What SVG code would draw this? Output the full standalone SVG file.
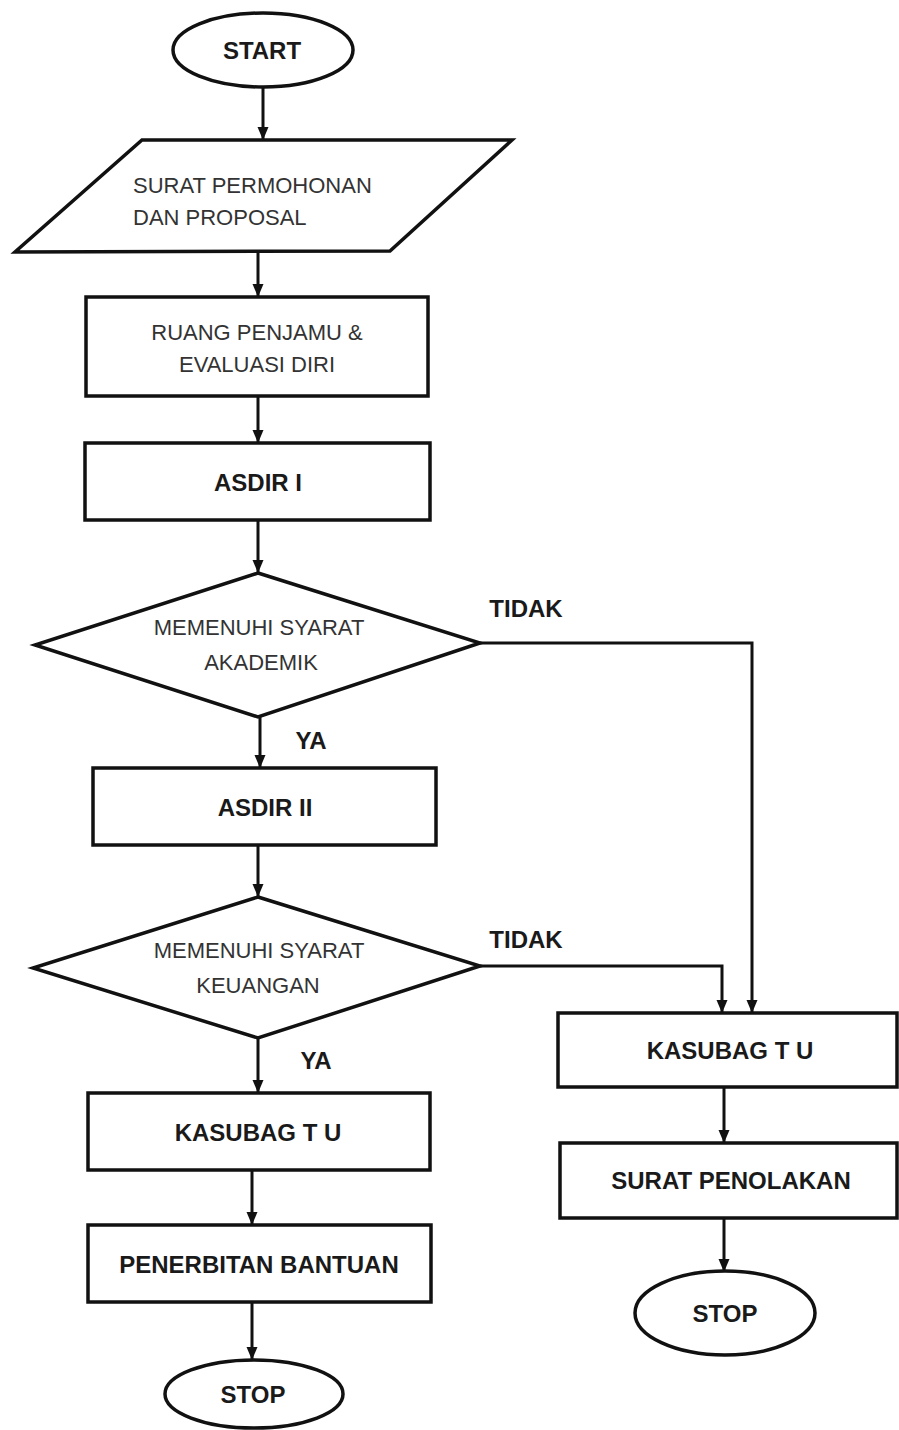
<svg xmlns="http://www.w3.org/2000/svg" width="899" height="1430" viewBox="0 0 899 1430">
  <style>
    .shape { fill: #ffffff; stroke: #111111; stroke-width: 3.5; }
    .conn { fill: none; stroke: #111111; stroke-width: 3; }
    .b { font-family: "Liberation Sans", Arial, sans-serif; font-weight: bold; font-size: 24px; fill: #1a1a1a; text-anchor: middle; }
    .r { font-family: "Liberation Sans", Arial, sans-serif; font-size: 22px; fill: #333333; text-anchor: middle; }
  </style>
  <defs>
    <marker id="arrow" markerUnits="userSpaceOnUse" markerWidth="13" markerHeight="12" refX="12" refY="5.5" orient="auto">
      <path d="M0,0 L13,5.5 L0,11 z" fill="#111111"/>
    </marker>
  </defs>
  <rect width="899" height="1430" fill="#ffffff"/>

  <!-- connectors -->
  <g id="connectors">
    <path class="conn" d="M263 87 V139" marker-end="url(#arrow)"/>
    <path class="conn" d="M258 251 V296" marker-end="url(#arrow)"/>
    <path class="conn" d="M258 396 V442" marker-end="url(#arrow)"/>
    <path class="conn" d="M258 520 V572" marker-end="url(#arrow)"/>
    <path class="conn" d="M260 717 V767" marker-end="url(#arrow)"/>
    <path class="conn" d="M258 845 V896" marker-end="url(#arrow)"/>
    <path class="conn" d="M480 643 H752 V1012" marker-end="url(#arrow)"/>
    <path class="conn" d="M480 966 H722 V1012" marker-end="url(#arrow)"/>
    <path class="conn" d="M258 1038 V1092" marker-end="url(#arrow)"/>
    <path class="conn" d="M252 1170 V1224" marker-end="url(#arrow)"/>
    <path class="conn" d="M252 1302 V1359" marker-end="url(#arrow)"/>
    <path class="conn" d="M724 1087 V1142" marker-end="url(#arrow)"/>
    <path class="conn" d="M724 1218 V1271" marker-end="url(#arrow)"/>
    <text class="b" x="526" y="617">TIDAK</text>
    <text class="b" x="311" y="749">YA</text>
    <text class="b" x="526" y="948">TIDAK</text>
    <text class="b" x="316" y="1069">YA</text>
  </g>

  <!-- nodes -->
  <g id="start">
    <ellipse class="shape" cx="263" cy="50" rx="90" ry="37"/>
    <text class="b" x="262" y="59">START</text>
  </g>

  <g id="surat-permohonan">
    <polygon class="shape" points="142,140 512,140 390,251 15,252"/>
    <text class="r" x="133" y="193" style="text-anchor:start">SURAT PERMOHONAN</text>
    <text class="r" x="133" y="225" style="text-anchor:start">DAN PROPOSAL</text>
  </g>

  <g id="ruang-penjamu">
    <rect class="shape" x="86" y="297" width="342" height="99"/>
    <text class="r" x="257" y="340">RUANG PENJAMU &amp;</text>
    <text class="r" x="257" y="372">EVALUASI DIRI</text>
  </g>

  <g id="asdir-1">
    <rect class="shape" x="85" y="443" width="345" height="77"/>
    <text class="b" x="258" y="491">ASDIR I</text>
  </g>

  <g id="syarat-akademik">
    <polygon class="shape" points="258,573 480,643 258,717 35,645"/>
    <text class="r" x="259" y="635">MEMENUHI SYARAT</text>
    <text class="r" x="261" y="670">AKADEMIK</text>
  </g>

  <g id="asdir-2">
    <rect class="shape" x="93" y="768" width="343" height="77"/>
    <text class="b" x="265" y="816">ASDIR II</text>
  </g>

  <g id="syarat-keuangan">
    <polygon class="shape" points="258,897 480,966 258,1038 33,968"/>
    <text class="r" x="259" y="958">MEMENUHI SYARAT</text>
    <text class="r" x="258" y="993">KEUANGAN</text>
  </g>

  <g id="kasubag-left">
    <rect class="shape" x="88" y="1093" width="342" height="77"/>
    <text class="b" x="258" y="1141">KASUBAG T U</text>
  </g>

  <g id="penerbitan-bantuan">
    <rect class="shape" x="88" y="1225" width="343" height="77"/>
    <text class="b" x="259" y="1273">PENERBITAN BANTUAN</text>
  </g>

  <g id="stop-left">
    <ellipse class="shape" cx="254" cy="1394" rx="89" ry="34"/>
    <text class="b" x="253" y="1403">STOP</text>
  </g>

  <g id="kasubag-right">
    <rect class="shape" x="558" y="1013" width="339" height="74"/>
    <text class="b" x="730" y="1059">KASUBAG T U</text>
  </g>

  <g id="surat-penolakan">
    <rect class="shape" x="560" y="1143" width="337" height="75"/>
    <text class="b" x="731" y="1189">SURAT PENOLAKAN</text>
  </g>

  <g id="stop-right">
    <ellipse class="shape" cx="725" cy="1313" rx="90" ry="42"/>
    <text class="b" x="725" y="1322">STOP</text>
  </g>
</svg>
